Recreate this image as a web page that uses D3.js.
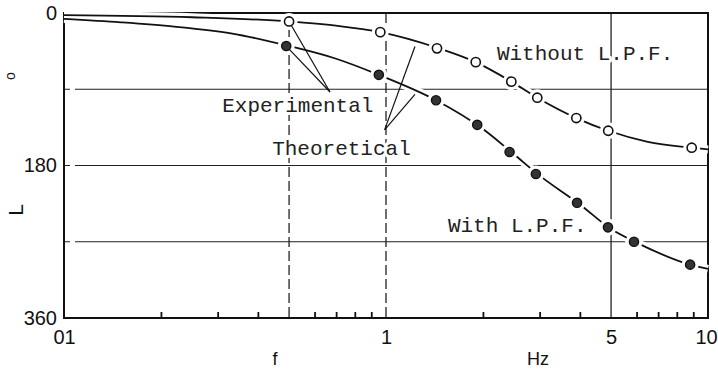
<!DOCTYPE html>
<html>
<head>
<meta charset="utf-8">
<script src="https://cdn.jsdelivr.net/npm/d3@7"></script>
<style>
body{margin:0;background:#fff}
text{font-family:"Liberation Sans",Arial,sans-serif}
.mono{font-family:"Liberation Mono","Courier New",monospace}
</style>
</head>
<body>
<div id="chart"></div>
<script>
// measured points (frequency in Hz, phase lag in degrees)
var freqWithout = [0.5, 0.96, 1.44, 1.9, 2.45, 2.95, 3.9, 4.9, 8.9]
var phaseWithout = [10, 22.6, 41.7, 58, 81, 100, 124, 139, 159]
var freqWith = [0.49, 0.95, 1.43, 1.92, 2.42, 2.92, 3.92, 4.89, 5.89, 8.8]
var phaseWith = [39, 73, 103, 132, 164, 190, 224, 253, 270, 297]

// theoretical curves
var theoFreqWithout = [0.1, 0.25, 0.5, 0.7, 0.96, 1.44, 1.9, 2.45, 2.95, 3.9, 4.9, 6.5, 8.9, 10]
var theoPhaseWithout = [2.5, 5, 10, 15, 22.6, 41, 58, 81, 100, 124, 139, 152, 159, 161]
var theoFreqWith = [0.1, 0.15, 0.22, 0.33, 0.5, 0.7, 0.95, 1.43, 2, 2.5, 3, 4, 5, 6, 8.8, 10]
var theoPhaseWith = [7, 11, 16, 24, 39, 54, 73, 103, 137, 167, 192, 226, 255, 271, 297, 302]

// axes
var xMinorTicks = [0.2, 0.3, 0.4, 0.6, 0.7, 0.8, 0.9, 2, 3, 4, 6, 7, 8, 9]
var xLabelValues = [0.1, 1, 5, 10]
var xLabelText = ["01", "1", "5", "10"]
var xGridValues = [0.5, 1, 5]
var yLabelValues = [0, 180, 360]
var yGridValues = [90, 180, 270]

// annotations: text, freq and phase of the text start / baseline
var annoText = ["Experimental", "Theoretical", "Without L.P.F.", "With L.P.F."]
var annoFreq = [0.31, 0.443, 2.21, 1.557]
var annoPhase = [116.9, 167.6, 54.9, 258.5]

// leader lines: [freq1, phase1, freq2, phase2]
var leaders = [
	[0.5, 10, 0.67, 93.2],
	[0.49, 39, 0.67, 93.2],
	[0.99, 138, 1.23, 39.5],
	[0.99, 138, 1.23, 96]
]

var width = 718, height = 370
var svg = d3.select("#chart").append("svg").attr("width", width).attr("height", height)

var x = d3.scaleLog().domain([0.1, 10]).range([64, 708])
var y = d3.scaleLinear().domain([0, 360]).range([13, 318])

// grid
svg.append("g").selectAll("line").data(yGridValues).enter().append("line")
	.attr("x1", x(0.1)).attr("x2", x(10))
	.attr("y1", function(d){return y(d)}).attr("y2", function(d){return y(d)})
	.attr("stroke", "#222").attr("stroke-width", 1.2)
	.attr("stroke-dasharray", "6,5,2000")

svg.append("g").selectAll("line").data(xGridValues).enter().append("line")
	.attr("x1", function(d){return x(d)}).attr("x2", function(d){return x(d)})
	.attr("y1", y(0)).attr("y2", y(360))
	.attr("stroke", "#222").attr("stroke-width", 1.3)
	.attr("stroke-dasharray", function(d){return d == 5 ? null : "10,4"})

// frame
svg.append("rect")
	.attr("x", x(0.1)).attr("y", y(0))
	.attr("width", x(10) - x(0.1)).attr("height", y(360) - y(0))
	.attr("fill", "none").attr("stroke", "#111").attr("stroke-width", 2)

// minor ticks on bottom axis (inside)
var minorAxis = svg.append("g").attr("transform", "translate(0," + y(360) + ")")
	.call(d3.axisBottom(x).tickValues(xMinorTicks).tickSize(-6).tickFormat(""))
minorAxis.select(".domain").remove()
minorAxis.selectAll("line").attr("stroke", "#111").attr("stroke-width", 1.8)

// tick labels
var xAxis = svg.append("g").attr("transform", "translate(0," + y(360) + ")")
	.call(d3.axisBottom(x).tickValues(xLabelValues).tickSize(0).tickPadding(12)
		.tickFormat(function(d, i){return xLabelText[i]}))
xAxis.select(".domain").remove()
xAxis.selectAll("text").style("font-size", "20px").attr("fill", "#111")
	.attr("font-family", "Liberation Sans")
	.attr("dx", function(d){return d == 10 ? -2 : 0})

var yAxis = svg.append("g").attr("transform", "translate(" + x(0.1) + ",0)")
	.call(d3.axisLeft(y).tickValues(yLabelValues).tickSize(0).tickPadding(7))
yAxis.select(".domain").remove()
yAxis.selectAll("text").style("font-size", "20px").attr("fill", "#111")
	.attr("font-family", "Liberation Sans")

// axis titles
svg.append("text").text("f").attr("x", 275).attr("y", 365)
	.attr("text-anchor", "middle").style("font-size", "18px").attr("fill", "#111")
svg.append("text").text("Hz").attr("x", 538).attr("y", 365)
	.attr("text-anchor", "middle").style("font-size", "18px").attr("fill", "#111")
svg.append("text").text("L").attr("transform", "translate(23,210) rotate(-90)")
	.attr("text-anchor", "middle").style("font-size", "21px").attr("fill", "#111")
svg.append("text").text("o").attr("transform", "translate(15,76) rotate(-90)")
	.attr("text-anchor", "middle").style("font-size", "14px").attr("fill", "#111")

// theoretical curves
var line = d3.line()
	.x(function(d){return x(d[0])})
	.y(function(d){return y(d[1])})
	.curve(d3.curveMonotoneX)

var curves = [
	d3.zip(theoFreqWithout, theoPhaseWithout),
	d3.zip(theoFreqWith, theoPhaseWith)
]
curves.forEach(function(c){
	svg.append("path").datum(c).attr("d", line)
		.attr("fill", "none").attr("stroke", "#fff").attr("stroke-width", 8)
})
curves.forEach(function(c){
	svg.append("path").datum(c).attr("d", line)
		.attr("fill", "none").attr("stroke", "#111").attr("stroke-width", 1.8)
})

// marker halos cut the curves
var pointsWithout = d3.zip(freqWithout, phaseWithout)
var pointsWith = d3.zip(freqWith, phaseWith)
svg.append("g").selectAll("circle").data(pointsWithout.concat(pointsWith)).enter()
	.append("circle")
	.attr("cx", function(d){return x(d[0])}).attr("cy", function(d){return y(d[1])})
	.attr("r", 8.5).attr("fill", "#fff")

// leader lines
svg.append("g").selectAll("line").data(leaders).enter().append("line")
	.attr("x1", function(d){return x(d[0])}).attr("y1", function(d){return y(d[1])})
	.attr("x2", function(d){return x(d[2])}).attr("y2", function(d){return y(d[3])})
	.attr("stroke", "#111").attr("stroke-width", 1.2)

// markers
svg.append("g").selectAll("circle").data(pointsWithout).enter().append("circle")
	.attr("cx", function(d){return x(d[0])}).attr("cy", function(d){return y(d[1])})
	.attr("r", 4.6).attr("fill", "#fff").attr("stroke", "#111").attr("stroke-width", 1.6)

svg.append("g").selectAll("circle").data(pointsWith).enter().append("circle")
	.attr("cx", function(d){return x(d[0])}).attr("cy", function(d){return y(d[1])})
	.attr("r", 4.6).attr("fill", "#333").attr("stroke", "#111").attr("stroke-width", 1.4)

// annotation labels with a white background
annoText.forEach(function(t, i){
	svg.append("text").attr("class", "mono").text(t)
		.attr("x", x(annoFreq[i])).attr("y", y(annoPhase[i]))
		.style("font-size", "21px").attr("fill", "#222")
		.attr("stroke", "#fff").attr("stroke-width", 6).attr("paint-order", "stroke")
		.attr("stroke-linejoin", "round")
})
</script>
</body>
</html>
